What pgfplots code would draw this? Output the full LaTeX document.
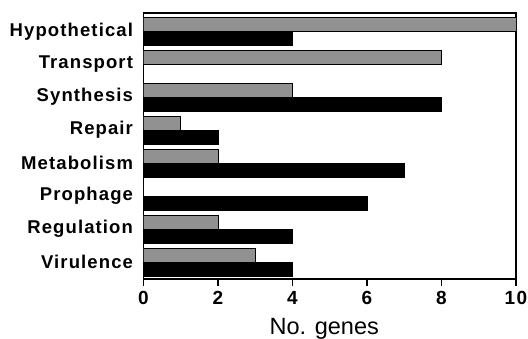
\documentclass[border=0pt]{standalone}
\usepackage{fontspec}
\setmainfont{Liberation Sans}
\newfontfamily\lblfont[LetterSpace=6]{Liberation Sans}
\newfontfamily\numfont[LetterSpace=8]{Liberation Sans}
\usepackage{pgfplots}
\pgfplotsset{compat=1.18}
\definecolor{bargray}{RGB}{145,145,145}
\begin{document}
\begin{tikzpicture}[x=1pt,y=1pt]
\path[use as bounding box] (0,0) rectangle (528,338);
\begin{axis}[
  at={(143.5pt,59pt)}, anchor=south west,
  scale only axis, width=372.5pt, height=266pt,
  xmin=0, xmax=10, ymin=-0.515, ymax=7.555,
  xtick={0,2,4,6,8,10},
  ytick={0,1,2,3,4,5,6,7},
  yticklabels={Virulence,Regulation,Prophage,Metabolism,Repair,Synthesis,Transport,Hypothetical},
  tick align=outside, tick pos=left,
  major tick length=7pt,
  xtick style={line width=1.6pt, black},
  ytick style={draw=none},
  axis line style={line width=1.6pt},
  /pgf/number format/assume math mode=true,
  xticklabel style={font=\numfont\fontsize{19}{21}\selectfont\bfseries, yshift=-2pt},
  yticklabel style={font=\lblfont\fontsize{18.5}{20}\selectfont\bfseries},
  xlabel={No. genes},
  xlabel style={font=\fontsize{23.5}{28}\selectfont, at={(axis description cs:0.5,0)}, anchor=base, inner sep=0pt, yshift=-55.3pt, xshift=-5.5pt},
]
\addplot[xbar, bar width=0.42, bar shift=0.21, fill=bargray, draw=black, line width=0.7pt]
  coordinates {(3,0) (2,1) (0,2) (2,3) (1,4) (4,5) (8,6) (10,7)};
\addplot[xbar, bar width=0.42, bar shift=-0.21, fill=black, draw=black, line width=0.5pt]
  coordinates {(4,0) (4,1) (6,2) (7,3) (2,4) (8,5) (0,6) (4,7)};
\end{axis}
\end{tikzpicture}
\end{document}
